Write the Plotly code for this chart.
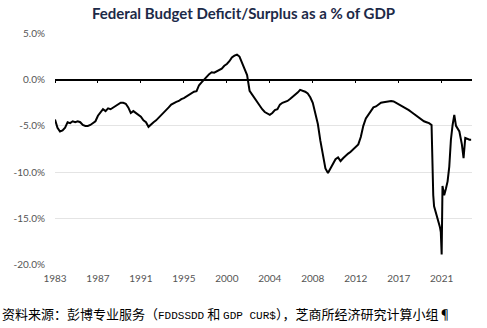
import pandas as pd
import plotly.graph_objects as go

# Rolling federal budget balance, % of GDP (negative = deficit)
months = [
    "1983-01", "1983-04", "1983-07", "1983-10", "1984-01", "1984-04", "1984-07", "1984-10",
    "1985-01", "1985-04", "1985-07", "1985-10", "1986-01", "1986-04", "1986-07", "1986-10",
    "1987-01", "1987-04", "1987-07", "1987-10", "1988-01", "1988-04", "1988-07", "1988-10",
    "1989-01", "1989-04", "1989-07", "1989-10", "1990-01", "1990-04", "1990-07", "1990-10",
    "1991-01", "1991-04", "1991-07", "1991-10", "1992-01", "1992-04", "1992-07", "1992-10",
    "1993-01", "1993-04", "1993-07", "1993-10", "1994-01", "1994-04", "1994-07", "1994-10",
    "1995-01", "1995-04", "1995-07", "1995-10", "1996-01", "1996-04", "1996-07", "1996-10",
    "1997-01", "1997-04", "1997-07", "1997-10", "1998-01", "1998-04", "1998-07", "1998-10",
    "1999-01", "1999-04", "1999-07", "1999-10", "2000-01", "2000-04", "2000-07", "2000-10",
    "2001-01", "2001-04", "2001-07", "2001-10", "2002-01", "2002-04", "2002-07", "2002-10",
    "2003-01", "2003-04", "2003-07", "2003-10", "2004-01", "2004-04", "2004-07", "2004-10",
    "2005-01", "2005-04", "2005-07", "2005-10", "2006-01", "2006-04", "2006-07", "2006-10",
    "2007-01", "2007-04", "2007-07", "2007-10", "2008-01", "2008-04", "2008-07", "2008-10",
    "2009-01", "2009-04", "2009-07", "2009-10", "2010-01", "2010-04", "2010-07", "2010-10",
    "2011-01", "2011-04", "2011-07", "2011-10", "2012-01", "2012-04", "2012-07", "2012-10",
    "2013-01", "2013-04", "2013-07", "2013-10", "2014-01", "2014-04", "2014-07", "2014-10",
    "2015-01", "2015-04", "2015-07", "2015-10", "2016-01", "2016-04", "2016-07", "2016-10",
    "2017-01", "2017-04", "2017-07", "2017-10", "2018-01", "2018-04", "2018-07", "2018-10",
    "2019-01", "2019-04", "2019-07", "2019-10", "2020-01", "2020-04", "2020-05", "2020-06",
    "2020-07", "2020-08", "2020-10", "2020-12", "2021-02", "2021-03", "2021-04", "2021-05",
    "2021-07", "2021-09", "2021-11", "2022-01", "2022-03", "2022-05", "2022-07", "2022-09",
    "2022-11", "2023-01", "2023-04", "2023-06", "2023-08", "2023-10", "2024-01", "2024-03",
]
balance_pct = [
    -4.3, -5.2, -5.6, -5.5, -5.2, -4.6, -4.7, -4.5,
    -4.6, -4.5, -4.6, -4.9, -5.0, -5.0, -4.9, -4.7,
    -4.5, -3.9, -3.5, -3.2, -3.4, -3.1, -3.2, -3.0,
    -2.8, -2.7, -2.5, -2.5, -2.6, -3.0, -3.6, -3.4,
    -3.6, -3.8, -4.0, -4.4, -4.6, -5.1, -4.8, -4.6,
    -4.4, -4.1, -3.8, -3.5, -3.3, -3.0, -2.7, -2.5,
    -2.4, -2.3, -2.1, -2.0, -1.8, -1.6, -1.5, -1.3,
    -1.25, -0.6, -0.3, 0.05, 0.3, 0.6, 0.8, 0.75,
    0.9, 1.0, 1.2, 1.5, 1.7, 2.0, 2.4, 2.6,
    2.7, 2.5, 1.9, 1.2, 0.5, -1.2, -1.6, -2.1,
    -2.4, -2.9, -3.2, -3.5, -3.7, -3.8, -3.6, -3.3,
    -3.2, -2.7, -2.5, -2.4, -2.3, -2.1, -1.9, -1.7,
    -1.4, -1.1, -1.2, -1.3, -1.5, -1.9, -2.5, -3.5,
    -4.8, -6.6, -8.2, -9.6, -10.1, -9.6, -9.0, -8.6,
    -8.4, -8.8, -8.5, -8.2, -8.0, -7.8, -7.5, -7.2,
    -7.0, -6.2, -5.0, -4.2, -3.8, -3.3, -3.0, -2.9,
    -2.7, -2.5, -2.45, -2.4, -2.35, -2.3, -2.35, -2.5,
    -2.7, -2.8, -3.0, -3.1, -3.3, -3.5, -3.7, -3.9,
    -4.1, -4.3, -4.5, -4.6, -4.7, -4.9, -9.5, -12.5,
    -13.7, -14.0, -14.6, -15.3, -16.0, -16.5, -18.9, -11.5,
    -12.5, -11.8, -11.0, -9.4, -6.5, -4.9, -3.8, -5.0,
    -5.3, -5.6, -7.0, -8.5, -6.3, -6.4, -6.5, -6.5,
]

# Year labels, one every 51 months starting January 1983
tick_labels = ["1983", "1987", "1991", "1995", "2000", "2004", "2008", "2012", "2017", "2021"]
tick_pos = pd.date_range("1983-01-01", periods=len(tick_labels), freq="51MS")

y_vals = [5, 0, -5, -10, -15, -20]
y_text = ["5.0%", "0.0%", "-5.0%", "-10.0%", "-15.0%", "-20.0%"]

x_dates = pd.to_datetime(months)
x_range = ["1983-01-01", "2024-04-01"]
y_range = [-20.05, 5.05]

W, H = 487, 328
L, R, T, B = 55, 15, 33, 63
zero_frac = (0 - y_range[0]) / (y_range[1] - y_range[0])

fig = go.Figure()
fig.add_trace(go.Scatter(
    x=x_dates, y=balance_pct, mode="lines", xaxis="x",
    line=dict(color="black", width=2), showlegend=False, hoverinfo="skip",
))
# same series on the zero-line axis so that axis gets drawn with its ticks
fig.add_trace(go.Scatter(
    x=x_dates, y=balance_pct, mode="lines", xaxis="x2",
    line=dict(color="rgba(0,0,0,0)", width=0), showlegend=False, hoverinfo="skip",
))

axis_font = dict(family="Lato, Open Sans, sans-serif", size=10, color="#555555")

fig.update_layout(
    width=W, height=H,
    margin=dict(l=L, r=R, t=T, b=B),
    paper_bgcolor="white", plot_bgcolor="white",
    title=dict(
        text="<b>Federal Budget Deficit/Surplus as a % of GDP</b>",
        x=0.5, xref="container", xanchor="center",
        y=1 - 14 / H, yref="container", yanchor="middle",
        font=dict(family="Lato, sans-serif", size=15, color="#1c2a48"),
    ),
    xaxis=dict(
        type="date", range=x_range,
        tickvals=tick_pos, ticktext=tick_labels,
        showgrid=False, zeroline=False, showline=False, ticks="",
        tickfont=axis_font, ticklabelstandoff=6,
    ),
    xaxis2=dict(
        type="date", overlaying="x", matches="x", anchor="free", position=zero_frac,
        side="bottom", tickvals=tick_pos, showticklabels=False,
        showgrid=False, zeroline=False,
        showline=True, linecolor="black", linewidth=1.5,
        ticks="outside", ticklen=3, tickwidth=1.2, tickcolor="black",
    ),
    yaxis=dict(
        range=y_range, tickvals=y_vals, ticktext=y_text,
        showgrid=True, gridcolor="#e4e4e4", gridwidth=1,
        zeroline=False, showline=False, ticks="",
        tickfont=axis_font, ticklabelstandoff=9,
    ),
)

mono = '<span style="font-family:Liberation Mono, DejaVu Sans Mono, monospace;font-size:11px">'
source_text = (
    "资料来源：彭博专业服务（" + mono + "FDDSSDD</span> 和 " + mono + "GDP CUR$</span>"
    "），芝商所经济研究计算小组¶"
)

fig.add_annotation(
    text=source_text,
    xref="paper", yref="paper",
    x=-L / (W - L - R), xanchor="left",
    y=-(313 - (H - B)) / (H - T - B), yanchor="middle",
    showarrow=False,
    font=dict(family="Noto Sans CJK SC, sans-serif", size=13, color="black"),
)

fig.write_html("out.html")
